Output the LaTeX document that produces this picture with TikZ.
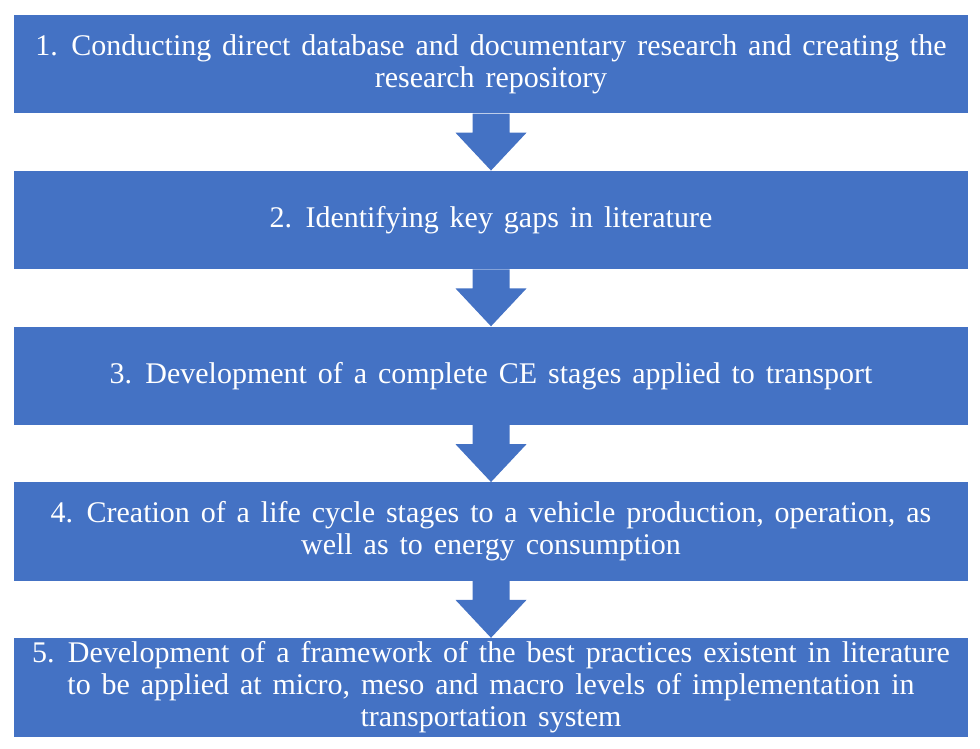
\documentclass[tikz,border=0pt]{standalone}
\usepackage{fontspec}
\setmainfont{Liberation Serif}
\usetikzlibrary{calc}
\definecolor{boxblue}{HTML}{4472C4}
\newcommand{\stepfont}{\fontsize{30}{32}\selectfont\spaceskip=10.9pt plus 0pt minus 0pt\relax}
\tikzset{
  stepbox/.style={fill=boxblue, draw=none, minimum width=954pt, minimum height=98.5pt,
    inner sep=0pt, text=white, align=center, font=\stepfont},
  blockarrow/.style={fill=boxblue, draw=none}
}
\newcommand{\blockarr}[2]{%
  \fill[blockarrow] ($(#1.south)+(-18.5,0)$) -- ($(#1.south)+(18.5,0)$)
    -- ($(#1.south)+(18.5,19)$) -- ($(#1.south)+(35.5,19)$)
    -- (#2.north) -- ($(#1.south)+(-35.5,19)$) -- ($(#1.south)+(-18.5,19)$) -- cycle;}
\begin{document}
\begin{tikzpicture}[x=1pt,y=-1pt]
\useasboundingbox (0,0) rectangle (980,749);
\node[stepbox] (b1) at (491,64.25) {1. Conducting direct database and documentary research and creating the\\research repository};
\node[stepbox] (b2) at (491,220) {2. Identifying key gaps in literature};
\node[stepbox] (b3) at (491,375.75) {3. Development of a complete CE stages applied to transport};
\node[stepbox] (b4) at (491,531.5) {4. Creation of a life cycle stages to a vehicle production, operation, as\\well as to energy consumption};
\node[stepbox] (b5) at (491,687.25) {5. Development of a framework of the best practices existent in literature\\to be applied at micro, meso and macro levels of implementation in\\transportation system};
\blockarr{b1}{b2}
\blockarr{b2}{b3}
\blockarr{b3}{b4}
\blockarr{b4}{b5}
\end{tikzpicture}
\end{document}
